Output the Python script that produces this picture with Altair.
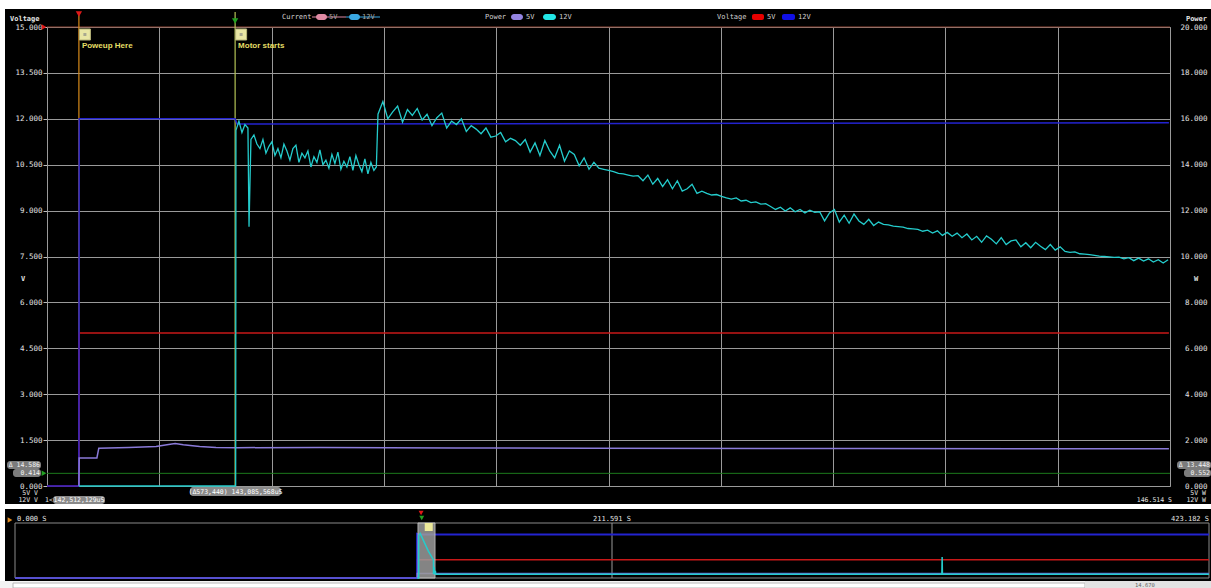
import altair as alt
import pandas as pd

MONO = "DejaVu Sans Mono"
SANS = "Liberation Sans"
GRID = "#9a9a9a"
TXT = "#e4e4e4"
RED = "#c81818"
BLUE = "#2323d0"
PURPLE = "#8a7ad8"
CYAN = "#24cccc"

# ---------------- main window: time in ms from the window's left edge ----------------
main_domain_ms = [0, 4119]
main_grid_ms = [0, 412, 824, 1236, 1648, 2060, 2471, 2883, 3295, 3707, 4119]
volt_ticks = [0, 1.5, 3, 4.5, 6, 7.5, 9, 10.5, 12, 13.5, 15]
power_ticks = [0, 2, 4, 6, 8, 10, 12, 14, 16, 18, 20]

volt12_t = [0, 117, 118, 690, 697, 4115]
volt12_v = [0, 0, 12.0, 12.0, 11.83, 11.87]
volt5_t = [0, 117, 118, 4115]
volt5_v = [0, 0, 5.0, 5.0]

pow5_t = [117, 118, 183, 190, 300, 400, 440, 470, 500, 560, 620, 700, 1000, 1500, 2000, 3000, 4115]
pow5_v = [0, 1.22, 1.22, 1.65, 1.68, 1.72, 1.8, 1.85, 1.8, 1.72, 1.68, 1.67, 1.68, 1.66, 1.65, 1.63, 1.62]

pow12_t = [117, 692,
           693, 704, 715, 726, 737, 741, 748, 759, 770, 781, 792, 803, 814, 825, 836, 847,
           858, 869, 880, 891, 902, 913, 924, 935, 946, 957, 968, 979, 990, 1001, 1012, 1023,
           1034, 1045, 1056, 1067, 1078, 1089, 1100, 1111, 1122, 1133, 1144, 1155, 1166, 1177,
           1188, 1199, 1208,
           1214, 1232, 1250, 1268, 1286, 1304, 1322, 1340, 1358, 1376,
           1394, 1412, 1430, 1448, 1466, 1484, 1502, 1520, 1538, 1556,
           1574, 1592, 1610, 1628, 1646, 1664, 1682, 1700, 1718, 1736,
           1754, 1772, 1790, 1808, 1826, 1844, 1862, 1880, 1898, 1916,
           1934, 1952, 1970, 1988, 2006, 2024, 2042, 2060, 2078, 2096,
           2114, 2132, 2150, 2168, 2186, 2204, 2222, 2240, 2258, 2276,
           2294, 2312, 2330, 2348, 2366, 2384, 2402, 2420, 2438, 2456,
           2474, 2492, 2510, 2528, 2546, 2564, 2582, 2600, 2618, 2636,
           2654, 2672, 2690, 2708, 2726, 2744, 2762, 2780, 2798, 2816,
           2834, 2852, 2870, 2888, 2906, 2924, 2942, 2960, 2978, 2996,
           3014, 3032, 3050, 3068, 3086, 3104, 3122, 3140, 3158, 3176,
           3194, 3212, 3230, 3248, 3266, 3284, 3302, 3320, 3338, 3356,
           3374, 3392, 3410, 3428, 3446, 3464, 3482, 3500, 3518, 3536,
           3554, 3572, 3590, 3608, 3626, 3644, 3662, 3680, 3698, 3716,
           3734, 3752, 3770, 3788, 3806, 3824, 3842, 3860, 3878, 3896,
           3914, 3932, 3950, 3968, 3986, 4004, 4022, 4040, 4058, 4076,
           4094, 4112]
pow12_v = [0, 0,
           15.5, 15.9, 15.4, 15.75, 15.6, 11.3, 15.1, 15.3, 14.9, 14.7, 15.1, 14.5, 14.8, 15.0, 14.4, 14.7,
           14.3, 14.9, 14.6, 14.2, 14.7, 14.85, 14.1, 14.5, 14.3, 14.6, 13.9, 14.35, 14.1, 14.65, 14.0, 14.2,
           13.85, 14.45, 14.05, 14.55, 13.8, 14.15, 13.9, 14.35, 13.75, 14.4, 14.0, 13.7, 14.25, 13.6,
           14.1, 13.75, 13.9,
           16.2, 16.75, 16.0, 16.3, 16.55, 15.85, 16.4, 16.15, 16.45, 15.95,
           16.2, 15.7, 16.05, 16.25, 15.6, 15.9, 15.75, 16.0, 15.45, 15.7,
           15.55, 15.35, 15.6, 15.2, 15.25, 15.4, 15.0, 15.15, 15.05, 14.85,
           15.1, 14.55, 14.95, 14.4, 15.05, 14.6, 14.3, 14.85, 14.15, 14.6,
           14.45, 13.95, 14.3, 13.8, 14.1, 13.85, 13.8, 13.75, 13.7, 13.62,
           13.6, 13.55, 13.5, 13.52, 13.3, 13.55, 13.15, 13.4, 13.05, 13.35,
           12.95, 13.3, 12.85, 12.95, 13.15, 12.75, 12.85, 12.75, 12.68, 12.7,
           12.62, 12.55, 12.5, 12.55, 12.42, 12.45, 12.35, 12.38, 12.28, 12.3,
           12.18, 12.05, 12.15, 11.98, 12.12, 11.95, 12.05, 11.9, 12.02, 11.92,
           11.95, 11.55, 11.9, 12.05, 11.5, 11.8, 11.45, 11.85, 11.55, 11.4,
           11.62, 11.35, 11.5, 11.4, 11.38, 11.32, 11.3, 11.28, 11.22, 11.2,
           11.18, 11.1, 11.15, 11.02, 11.12, 10.92, 11.05, 10.88, 11.02, 10.82,
           10.98, 10.72, 10.88, 10.62, 10.9, 10.75, 10.55, 10.82, 10.52, 10.68,
           10.72, 10.42, 10.6, 10.38, 10.62, 10.45, 10.3, 10.52, 10.28, 10.42,
           10.22, 10.18, 10.2, 10.12, 10.1, 10.08, 10.05, 10.02, 10.0, 9.98,
           9.96, 9.97, 9.9, 9.95, 9.82, 9.93, 9.8, 9.9, 9.76, 9.86,
           9.72, 9.86]

marker_ms = [117, 690]
marker_labels = ["Poweup Here", "Motor starts"]
marker_line_colors = ["#d88a1a", "#b4c456"]
marker_tri_colors = ["#e01818", "#22a022"]
cursor_volts = [15.0, 0.414]
cursor_colors = ["#8c4434", "#1c7a1c"]

# ---------------- overview strip: time in s ----------------
ov_domain_s = [0, 423.182]
ov_ticks_s = [0, 211.591, 423.182]
ov_window_s = [142.83, 148.86]
ov_volt12_t = [0, 142.51, 142.52, 143.09, 423.182]
ov_volt12_v = [0, 0, 12.0, 11.85, 11.85]
ov_volt5_t = [0, 142.51, 142.52, 423.182]
ov_volt5_v = [0, 0, 5.0, 5.0]
ov_pow5_t = [0, 142.51, 142.52, 423.182]
ov_pow5_v = [0, 0, 1.65, 1.65]
ov_pow12_t = [142.51, 143.08, 143.09, 143.6, 146.5, 148.3, 148.35, 148.6, 148.7, 149.0, 149.1, 328.5, 328.6, 328.7, 423.182]
ov_pow12_v = [0, 0, 15.5, 16.2, 9.8, 6.6, 1.4, 4.0, 1.4, 2.6, 1.4, 1.4, 7.6, 1.4, 1.4]
ov_marker_s = [142.51, 143.09]

one = pd.DataFrame({"k": [0]})

# page layout: plot area of the main window in page pixels
PX, PY, MW, MH = 47, 27, 1123, 459
# overview strip area in page pixels (converted into scale ranges below)
OVX1, OVX2, OVY1, OVY2 = 15, 1209, 523, 578


def text_at(s, X, Y, align="left", size=7, color=TXT, weight="normal", font=MONO):
    return alt.Chart(one).mark_text(text=s, align=align, baseline="middle", fontSize=size,
                                    font=font, fontWeight=weight, color=color).encode(
        x=alt.value(X - PX), y=alt.value(Y - PY))


def rect_at(X1, X2, Y1, Y2, fill, radius=0, stroke=None):
    kw = dict(fill=fill, cornerRadius=radius)
    if stroke:
        kw.update(stroke=stroke, strokeWidth=1)
    return alt.Chart(one).mark_rect(**kw).encode(
        x=alt.value(X1 - PX), x2=alt.value(X2 - PX),
        y=alt.value(Y1 - PY), y2=alt.value(Y2 - PY))


def trace(t, v, color, xenc, scale, axis=None, width=1.5):
    df = pd.DataFrame({"t": t, "val": v})
    return alt.Chart(df).mark_line(color=color, strokeWidth=width).encode(
        x=xenc, y=alt.Y("val:Q", scale=scale, axis=axis))


# ---- main scales ----
mscale = alt.Scale(domain=main_domain_ms, nice=False, zero=False)
xm_grid = alt.X("t:Q", scale=mscale,
                axis=alt.Axis(values=main_grid_ms, grid=True, gridColor=GRID, gridWidth=1,
                              labels=False, ticks=False, domain=False, title=None))
xm = alt.X("t:Q", scale=mscale, axis=None)
vscale = alt.Scale(domain=[0, 15], nice=False, zero=False)
pscale = alt.Scale(domain=[0, 20], nice=False, zero=False)
left_axis = alt.Axis(orient="left", values=volt_ticks, format=".3f", grid=True, gridColor=GRID,
                     domainColor=GRID, tickColor="#c0c0c0", tickSize=4, labelPadding=1,
                     labelFont=MONO, labelFontSize=7.5, labelColor=TXT, title=None)
right_axis = alt.Axis(orient="right", values=power_ticks, format=".3f", grid=False,
                      domainColor=GRID, ticks=False, tickSize=0, labelAlign="right",
                      labelPadding=37, labelFont=MONO, labelFontSize=7.5, labelColor=TXT, title=None)

# ---- overview scales (same plot, own ranges) ----
oscale = alt.Scale(domain=ov_domain_s, range=[OVX1 - PX, OVX2 - PX], nice=False, zero=False)
xo = alt.X("t:Q", scale=oscale, axis=None)
vscale2 = alt.Scale(domain=[0, 15], range=[OVY2 - PY, OVY1 - PY], nice=False, zero=False)
pscale2 = alt.Scale(domain=[0, 20], range=[OVY2 - PY, OVY1 - PY], nice=False, zero=False)

layers = [
    # white page margins / separators
    rect_at(0, 1211, 0, 9, "white"),
    rect_at(0, 5, 0, 588, "white"),
    rect_at(0, 1211, 504, 509, "white"),
    rect_at(0, 1211, 581, 588, "#f3f3f3"),
    rect_at(13, 1085, 583, 588, "#ffffff", stroke="#b8b8b8"),
    rect_at(1085, 1211, 581, 588, "#e2e2e2"),
    text_at("14.670", 1135, 584.5, size=5.5, color="#666666"),
]

# grid carrier (x axis with grid only)
layers.append(alt.Chart(pd.DataFrame({"t": main_grid_ms})).mark_point(opacity=0).encode(x=xm_grid))

for v, c in zip(cursor_volts, cursor_colors):
    layers.append(alt.Chart(pd.DataFrame({"val": [v]})).mark_rule(color=c, strokeWidth=1).encode(
        y=alt.Y("val:Q", scale=vscale, axis=None)))
for t, c in zip(marker_ms, marker_line_colors):
    layers.append(alt.Chart(pd.DataFrame({"t": [t]})).mark_rule(color=c, strokeWidth=1.2).encode(
        x=xm, y=alt.value(-15), y2=alt.value(MH)))

layers += [
    trace(volt5_t, volt5_v, RED, xm, vscale, left_axis),
    trace(volt12_t, volt12_v, BLUE, xm, vscale),
    trace(pow5_t, pow5_v, PURPLE, xm, pscale, right_axis),
    trace(pow12_t, pow12_v, CYAN, xm, pscale, width=1.3),
]

for i, (t, c) in enumerate(zip(marker_ms, marker_tri_colors)):
    mdf = pd.DataFrame({"t": [t], "name": [marker_labels[i]]})
    layers.append(alt.Chart(mdf).mark_point(shape="triangle-down", filled=True, size=40,
                                            color=c, opacity=1).encode(
        x=xm, y=alt.value(-13 + 7 * i)))
    layers.append(alt.Chart(mdf).mark_square(size=121, color="#e8e6a4", opacity=1,
                                             stroke="#b8b67a", strokeWidth=1, xOffset=6).encode(
        x=xm, y=alt.value(7.5)))
    layers.append(alt.Chart(mdf).mark_square(size=9, color="#a8a890", opacity=1, xOffset=6).encode(
        x=xm, y=alt.value(7.5)))
    layers.append(alt.Chart(mdf).mark_text(align="left", baseline="middle", font=SANS,
                                           fontSize=8, fontWeight="bold", color="#e4de66",
                                           xOffset=3).encode(
        x=xm, y=alt.value(19), text="name:N"))

for v, c in zip(cursor_volts, ["#e01818", "#22a022"]):
    layers.append(alt.Chart(pd.DataFrame({"val": [v]})).mark_point(
        shape="triangle-right", filled=True, size=30, color=c, opacity=1).encode(
        x=alt.value(-3), y=alt.Y("val:Q", scale=vscale, axis=None)))

layers += [
    text_at("Voltage", 10, 19, weight="bold"),
    text_at("Power", 1207, 19, align="right", weight="bold"),
    text_at("V", 23, 279, align="center", weight="bold"),
    text_at("W", 1196, 279, align="center", weight="bold"),
    # legend
    text_at("Current", 282, 17, color="#d0d0d0"),
    rect_at(312, 346, 16.5, 17.5, "#e08aa4"),
    rect_at(316, 327, 14, 20, "#e08aa4", radius=3),
    text_at("5V", 329, 17, color="#a8a8a8"),
    rect_at(346, 380, 16.5, 17.5, "#3aa8e2"),
    rect_at(349, 360, 14, 20, "#3aa8e2", radius=3),
    text_at("12V", 362, 17, color="#a8a8a8"),
    text_at("Power", 485, 17, color="#d0d0d0"),
    rect_at(511, 523, 14, 20, "#9484e2", radius=3),
    text_at("5V", 526, 17, color="#d0d0d0"),
    rect_at(543, 556, 14, 20, "#22e6e6", radius=3),
    text_at("12V", 559, 17, color="#d0d0d0"),
    text_at("Voltage", 717, 17, color="#d0d0d0"),
    rect_at(752, 764, 14, 20, "#e80000", radius=2),
    text_at("5V", 767, 17, color="#d0d0d0"),
    rect_at(782, 795, 14, 20, "#1010e8", radius=2),
    text_at("12V", 798, 17, color="#d0d0d0"),
    # readouts
    rect_at(7, 41, 461, 469, "#7c7c7c", radius=3),
    text_at("Δ 14.586", 40, 465, align="right", size=6.5, color="#f2f2f2"),
    rect_at(13, 41, 469, 477, "#7c7c7c", radius=3),
    text_at("0.414", 40, 473, align="right", size=6.5, color="#f2f2f2"),
    rect_at(1177, 1211, 461, 469, "#7c7c7c", radius=3),
    text_at("Δ 13.448", 1210, 465, align="right", size=6.5, color="#f2f2f2"),
    rect_at(1184, 1211, 469, 477, "#7c7c7c", radius=3),
    text_at("0.552", 1210, 473, align="right", size=6.5, color="#f2f2f2"),
    text_at("5V V", 38, 493, align="right", size=6.5),
    text_at("12V V", 38, 500, align="right", size=6.5),
    text_at("5V W", 1206, 493, align="right", size=6.5),
    text_at("12V W", 1206, 500, align="right", size=6.5),
    text_at("1<", 45, 500, size=6.5),
    rect_at(53, 105, 496, 504, "#8a8a8a", radius=3),
    text_at("142,512,129uS", 79, 500, align="center", size=6.5, color="#ffffff"),
    rect_at(190, 281, 487, 496, "#8a8a8a", radius=3),
    text_at("(Δ573,440) 143,085,568uS", 235.5, 491.5, align="center", size=6.5, color="#ffffff"),
    text_at("146.514 S", 1172, 500, align="right", size=6.5),
]

# ---------------- overview strip ----------------
win_df = pd.DataFrame({"t": [ov_window_s[0]], "t2": [ov_window_s[1]]})
ov_tick_df = pd.DataFrame({"t": ov_ticks_s,
                           "lab": [f"{v:.3f} S" for v in ov_ticks_s]})

layers += [
    rect_at(OVX1, OVX2, OVY1, OVY2, "transparent", stroke="#8a8a8a"),
    alt.Chart(ov_tick_df.iloc[[1]]).mark_rule(color=GRID, strokeWidth=1).encode(
        x=xo, y=alt.value(OVY1 - PY), y2=alt.value(OVY2 - PY)),
    alt.Chart(ov_tick_df.iloc[[0]]).mark_text(align="left", baseline="middle", font=MONO,
                                              fontSize=7, color=TXT, dx=2).encode(
        x=xo, y=alt.value(519 - PY), text="lab:N"),
    alt.Chart(ov_tick_df.iloc[[1]]).mark_text(align="center", baseline="middle", font=MONO,
                                              fontSize=7, color=TXT).encode(
        x=xo, y=alt.value(519 - PY), text="lab:N"),
    alt.Chart(ov_tick_df.iloc[[2]]).mark_text(align="right", baseline="middle", font=MONO,
                                              fontSize=7, color=TXT).encode(
        x=xo, y=alt.value(519 - PY), text="lab:N"),
    trace(ov_volt5_t, ov_volt5_v, RED, xo, vscale2, width=1.5),
    trace(ov_volt12_t, ov_volt12_v, BLUE, xo, vscale2, width=2),
    trace(ov_pow5_t, ov_pow5_v, "#6a62d0", xo, pscale2, width=1.5),
    alt.Chart(win_df).mark_rect(fill="#9c9c9c", opacity=0.85, stroke="#d0d0d0", strokeWidth=1).encode(
        x=xo, x2="t2:Q", y=alt.value(OVY1 - PY), y2=alt.value(OVY2 - PY)),
    trace(ov_pow12_t, ov_pow12_v, CYAN, xo, pscale2, width=1.5),
    alt.Chart(pd.DataFrame({"t": [ov_marker_s[1]]})).mark_square(
        size=64, color="#ece99a", opacity=1, xOffset=10).encode(x=xo, y=alt.value(527 - PY)),
    alt.Chart(pd.DataFrame({"t": [ov_marker_s[0]]})).mark_point(
        shape="triangle-down", filled=True, size=25, color="#e01818", opacity=1, xOffset=4).encode(
        x=xo, y=alt.value(513 - PY)),
    alt.Chart(pd.DataFrame({"t": [ov_marker_s[1]]})).mark_point(
        shape="triangle-down", filled=True, size=25, color="#22a022", opacity=1, xOffset=3).encode(
        x=xo, y=alt.value(518 - PY)),
    alt.Chart(one).mark_point(shape="triangle-right", filled=True, size=30, color="#e08a20",
                              opacity=1).encode(x=alt.value(10 - PX), y=alt.value(520 - PY)),
]

chart = alt.layer(*layers).resolve_scale(x="independent", y="independent").properties(
    width=MW, height=MH,
    autosize=alt.AutoSizeParams(type="none"),
    padding={"left": PX, "top": PY, "right": 1211 - PX - MW, "bottom": 588 - PY - MH},
).configure(background="black", font=MONO).configure_view(stroke="transparent")

chart.save("out.html", embed_options={"renderer": "svg", "actions": False})
